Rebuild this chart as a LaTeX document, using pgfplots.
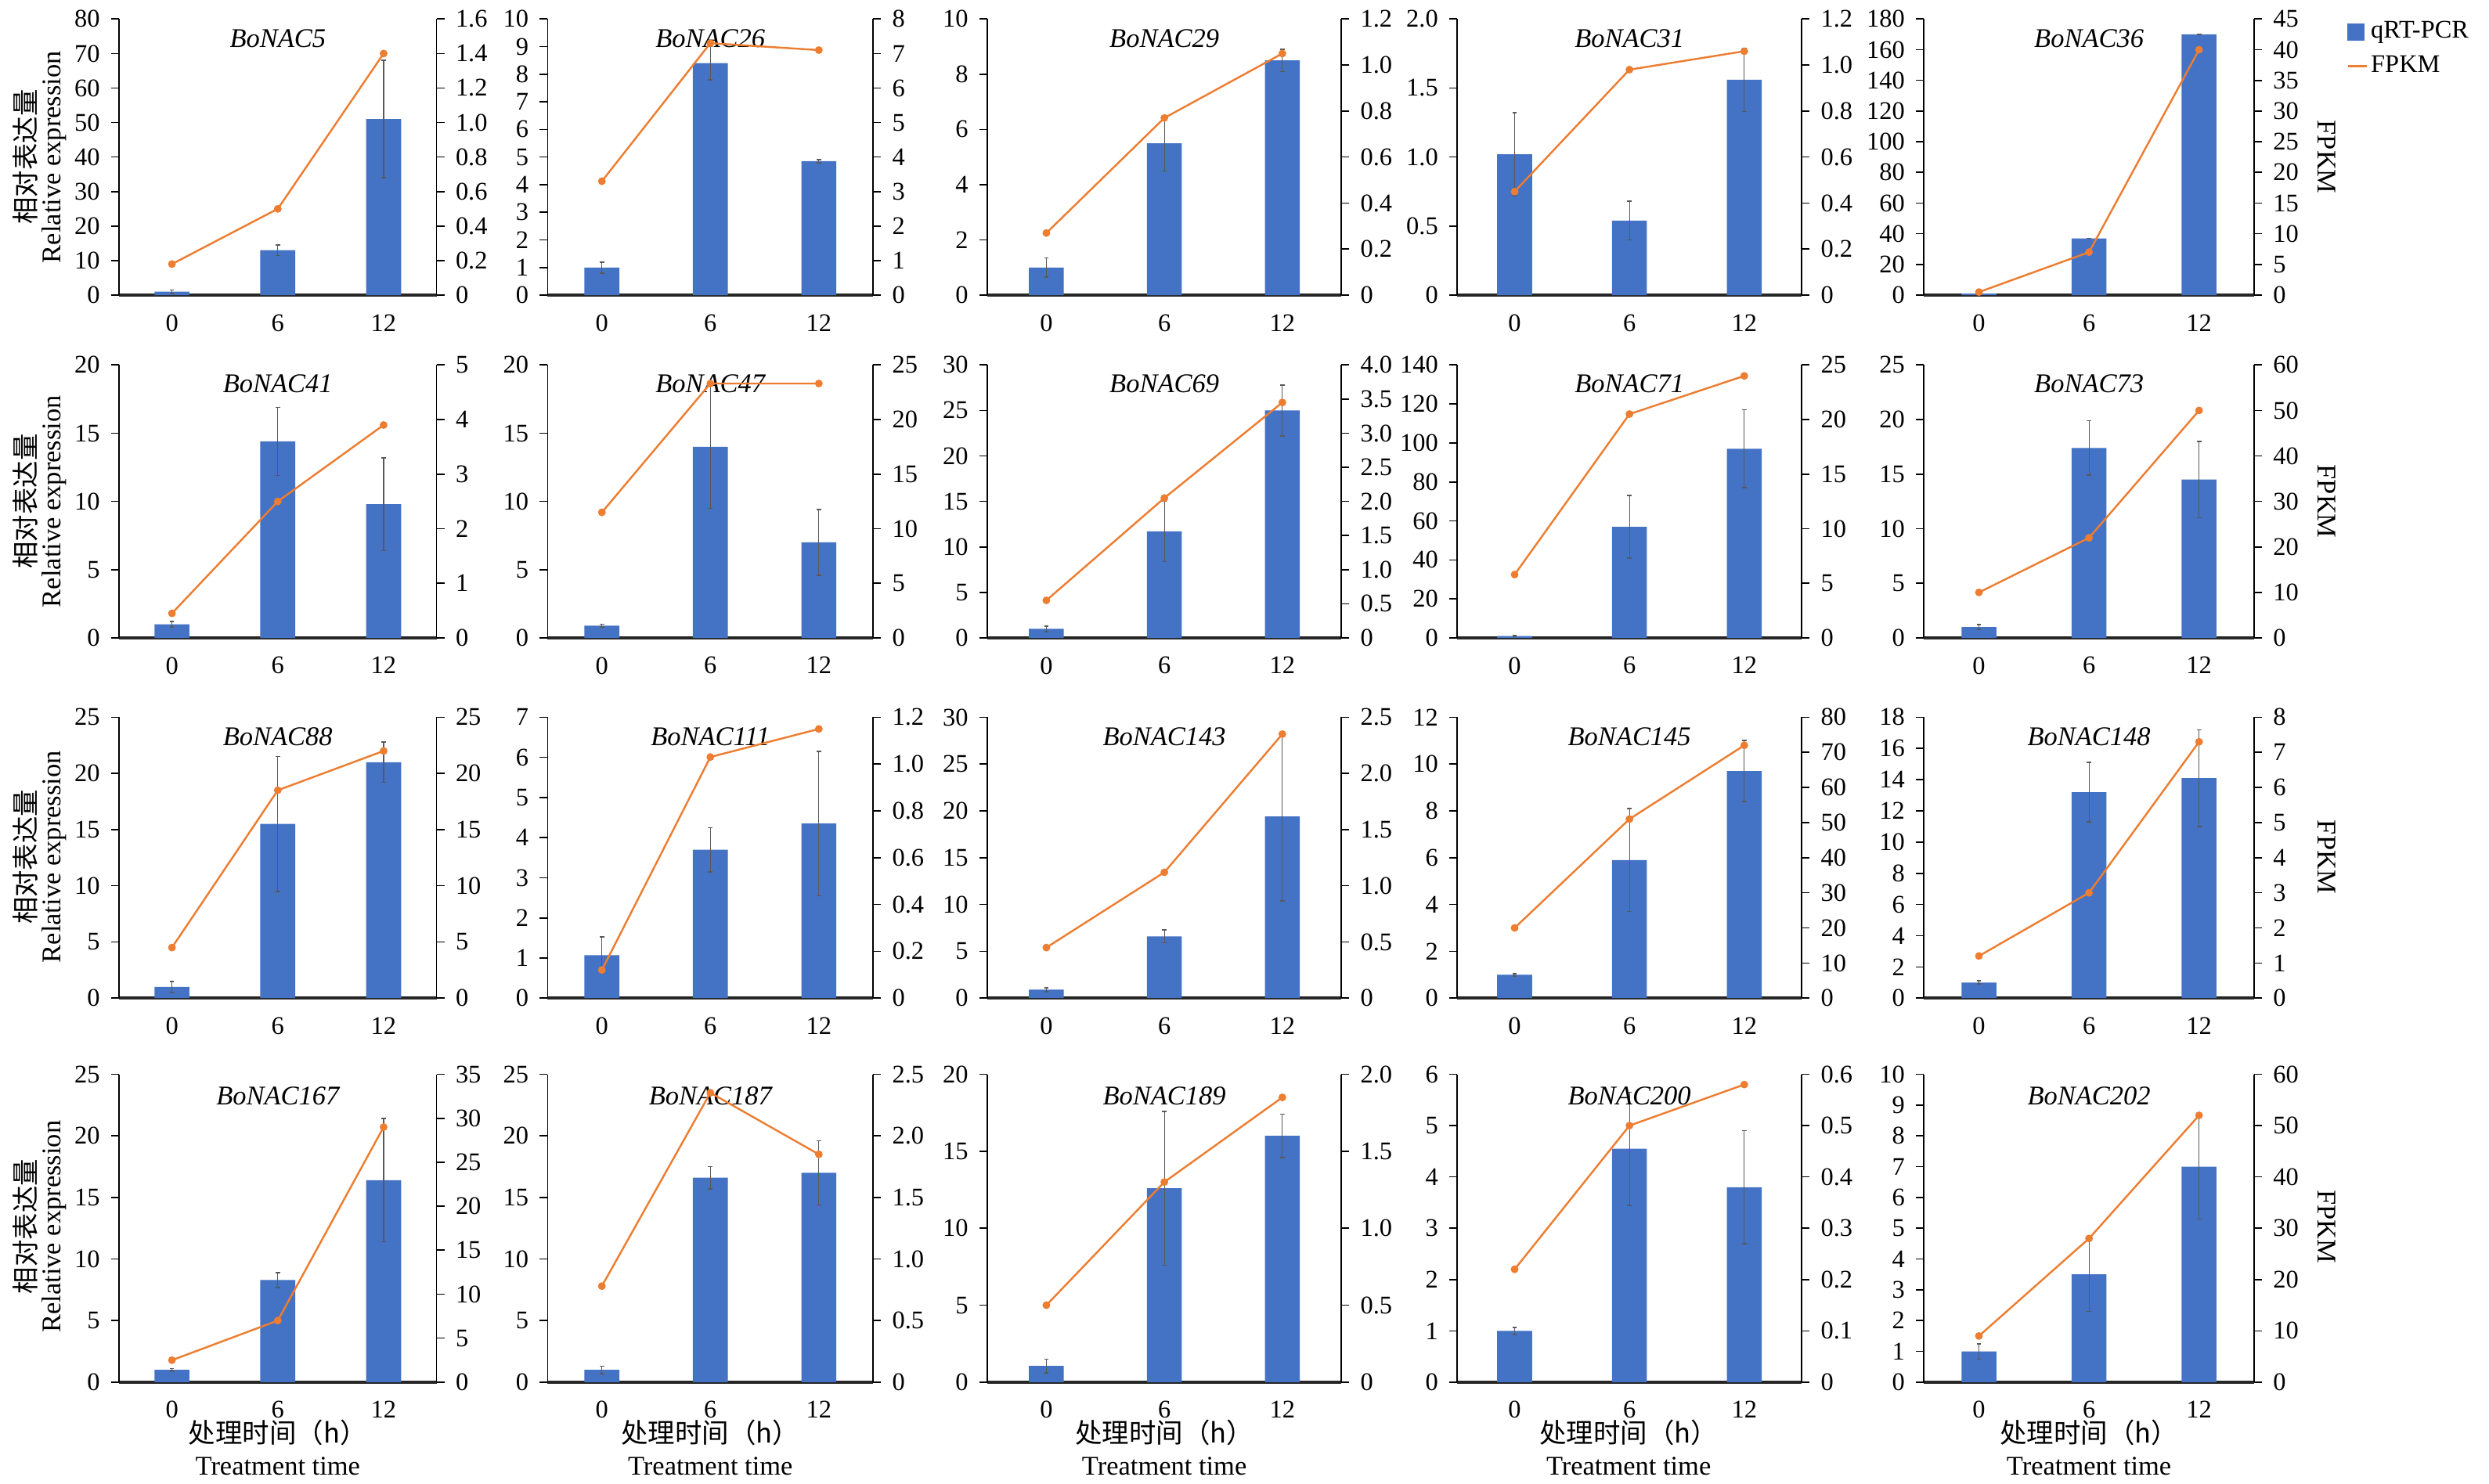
\documentclass[border=0pt]{standalone}
\usepackage{fontspec}
\setmainfont{Liberation Serif}
\newfontfamily\cjk{Noto Sans CJK SC}
\usepackage{pgfplots}
\pgfplotsset{compat=1.18}
\definecolor{nblue}{HTML}{4472C4}
\definecolor{norange}{HTML}{ED7D31}
\newcommand{\yl}[1]{\ifdim\tick pt=0pt 0\else\ifdim#1pt<1pt \pgfmathprintnumber[fixed,zerofill,precision=1]{\tick}\else\pgfmathprintnumber[fixed,precision=0]{\tick}\fi\fi}
\pgfplotsset{
  base/.style={scale only axis, anchor=south west, xmin=-0.5, xmax=2.5,
    /pgf/number format/assume math mode=true,
    tick label style={font=\fontsize{8}{9}\selectfont}, tick style={black, line width=0.4pt},
    major tick length=2.5pt, tick align=outside, clip=false},
  bar/.style={ybar, bar width=11pt, fill=nblue, draw=none,
    error bars/.cd, y dir=both, y explicit,
    error bar style={black!65, line width=0.3pt},
    error mark options={black!65, mark size=0.7pt, rotate=90}},
  fline/.style={norange, line width=0.6pt, mark=*, mark size=0.9pt, mark options={fill=norange, draw=norange}},
}
% #1 position, #2 title, #3 ymax, #4 ystep, #5 y2max, #6 y2step, #7 bars, #8 fpkm, #9 width
\newcommand{\panel}[9]{%
\begin{axis}[base, at={(#1)}, width=#9, height=\rh, ymin=0, ymax=#3, ytick distance=#4,
  yticklabel={\yl{#4}}, axis x line*=bottom, axis y line*=left,
  x axis line style={line width=1pt, black!85},
  xtick={0,1,2}, xticklabels={0,6,12}, x tick style={draw=none},
  extra x ticks={0.5,1.5}, extra x tick labels={}, extra x tick style={tick align=inside, major tick length=3.5pt, tick style={draw=black}}]
\addplot[bar] coordinates {#7};
\node[font=\fontsize{8.5}{9}\selectfont\itshape] at (rel axis cs:0.5,0.93) {#2};
\end{axis}
\begin{axis}[base, at={(#1)}, width=#9, height=\rh, ymin=0, ymax=#5, ytick distance=#6,
  yticklabel={\yl{#6}}, axis x line=none, axis y line*=right]
\addplot[fline] coordinates {#8};
\end{axis}}
\begin{document}
\begin{tikzpicture}
\path[use as bounding box] (0,0) rectangle (784pt,467.5pt);
% Row 1
\def\rh{87pt}
\panel{37.5pt,374.5pt}{BoNAC5}{80}{10}{1.6}{0.2}{(0,1) +- (0,0.5) (1,13) +- (0,1.5) (2,51) +- (0,17)}{(0,0.18) (1,0.5) (2,1.4)}{100pt}
\panel{172.5pt,374.5pt}{BoNAC26}{10}{1}{8}{1}{(0,1) +- (0,0.2) (1,8.4) +- (0,0.6) (2,4.85) +- (0,0.05)}{(0,3.3) (1,7.3) (2,7.1)}{102.5pt}
\panel{311pt,374.5pt}{BoNAC29}{10}{2}{1.2}{0.2}{(0,1) +- (0,0.35) (1,5.5) +- (0,1) (2,8.5) +- (0,0.4)}{(0,0.27) (1,0.77) (2,1.05)}{111.5pt}
\panel{459pt,374.5pt}{BoNAC31}{2}{0.5}{1.2}{0.2}{(0,1.02) +- (0,0.3) (1,0.54) +- (0,0.14) (2,1.56) +- (0,0.23)}{(0,0.45) (1,0.98) (2,1.06)}{108.5pt}
\panel{606pt,374.5pt}{BoNAC36}{180}{20}{45}{5}{(0,1) +- (0,0) (1,37) +- (0,0) (2,170) +- (0,0)}{(0,0.5) (1,7) (2,40)}{104pt}
% Row 2
\def\rh{86pt}
\panel{37.5pt,266.5pt}{BoNAC41}{20}{5}{5}{1}{(0,1) +- (0,0.2) (1,14.4) +- (0,2.5) (2,9.8) +- (0,3.4)}{(0,0.45) (1,2.5) (2,3.9)}{100pt}
\panel{172.5pt,266.5pt}{BoNAC47}{20}{5}{25}{5}{(0,0.9) +- (0,0.1) (1,14) +- (0,4.5) (2,7) +- (0,2.4)}{(0,11.5) (1,23.3) (2,23.3)}{102.5pt}
\panel{311pt,266.5pt}{BoNAC69}{30}{5}{4}{0.5}{(0,1) +- (0,0.3) (1,11.7) +- (0,3.3) (2,25) +- (0,2.8)}{(0,0.55) (1,2.05) (2,3.45)}{111.5pt}
\panel{459pt,266.5pt}{BoNAC71}{140}{20}{25}{5}{(0,1) +- (0,0.3) (1,57) +- (0,16) (2,97) +- (0,20)}{(0,5.8) (1,20.5) (2,24)}{108.5pt}
\panel{606pt,266.5pt}{BoNAC73}{25}{5}{60}{10}{(0,1) +- (0,0.2) (1,17.4) +- (0,2.5) (2,14.5) +- (0,3.5)}{(0,10) (1,22) (2,50)}{104pt}
% Row 3
\def\rh{88.5pt}
\panel{37.5pt,153pt}{BoNAC88}{25}{5}{25}{5}{(0,1) +- (0,0.5) (1,15.5) +- (0,6) (2,21) +- (0,1.8)}{(0,4.5) (1,18.5) (2,22)}{100pt}
\panel{172.5pt,153pt}{BoNAC111}{7}{1}{1.2}{0.2}{(0,1.07) +- (0,0.45) (1,3.7) +- (0,0.55) (2,4.35) +- (0,1.8)}{(0,0.12) (1,1.03) (2,1.15)}{102.5pt}
\panel{311pt,153pt}{BoNAC143}{30}{5}{2.5}{0.5}{(0,0.9) +- (0,0.2) (1,6.6) +- (0,0.7) (2,19.4) +- (0,9)}{(0,0.45) (1,1.12) (2,2.35)}{111.5pt}
\panel{459pt,153pt}{BoNAC145}{12}{2}{80}{10}{(0,1) +- (0,0.05) (1,5.9) +- (0,2.2) (2,9.7) +- (0,1.3)}{(0,20) (1,51) (2,72)}{108.5pt}
\panel{606pt,153pt}{BoNAC148}{18}{2}{8}{1}{(0,1) +- (0,0.1) (1,13.2) +- (0,1.9) (2,14.1) +- (0,3.1)}{(0,1.2) (1,3.0) (2,7.3)}{104pt}
% Row 4
\def\rh{97pt}
\panel{37.5pt,32pt}{BoNAC167}{25}{5}{35}{5}{(0,1) +- (0,0.1) (1,8.3) +- (0,0.6) (2,16.4) +- (0,5)}{(0,2.5) (1,7) (2,29)}{100pt}
\panel{172.5pt,32pt}{BoNAC187}{25}{5}{2.5}{0.5}{(0,1) +- (0,0.3) (1,16.6) +- (0,0.9) (2,17) +- (0,2.6)}{(0,0.78) (1,2.35) (2,1.85)}{102.5pt}
\panel{311pt,32pt}{BoNAC189}{20}{5}{2}{0.5}{(0,1.05) +- (0,0.45) (1,12.6) +- (0,5) (2,16) +- (0,1.4)}{(0,0.5) (1,1.3) (2,1.85)}{111.5pt}
\panel{459pt,32pt}{BoNAC200}{6}{1}{0.6}{0.1}{(0,1) +- (0,0.07) (1,4.55) +- (0,1.1) (2,3.8) +- (0,1.1)}{(0,0.22) (1,0.5) (2,0.58)}{108.5pt}
\panel{606pt,32pt}{BoNAC202}{10}{1}{60}{10}{(0,1) +- (0,0.25) (1,3.5) +- (0,1.2) (2,7) +- (0,1.7)}{(0,9) (1,28) (2,52)}{104pt}
% Legend
\begin{axis}[hide axis, scale only axis, width=30pt, height=20pt, at={(739pt,462pt)}, anchor=north west,
  xmin=0, xmax=1, ymin=0, ymax=1,
  legend style={at={(0,1)}, anchor=north west, draw=none, fill=none, font=\fontsize{8}{9}\selectfont, row sep=2pt, inner sep=0pt,
    nodes={inner sep=1pt}}, legend cell align=left,
  legend image code/.code={\draw[#1] (0pt,-2.5pt) rectangle (5pt,2.5pt);}]
\addlegendimage{fill=nblue, draw=nblue}
\addlegendentry{qRT-PCR}
\addlegendimage{legend image code/.code={\draw[norange, line width=0.6pt] (0pt,0pt) -- (6pt,0pt);}}
\addlegendentry{FPKM}
\end{axis}
% Axis titles
\foreach \yy in {418,309.5,197.5,81}{
  \node[rotate=90, font=\fontsize{8.5}{10}\selectfont\cjk] at (8pt,\yy pt) {相对表达量};
  \node[rotate=90, font=\fontsize{8.5}{10}\selectfont] at (17pt,\yy pt) {Relative expression};
  \node[rotate=-90, font=\fontsize{8.5}{10}\selectfont] at (733pt,\yy pt) {FPKM};
}
\foreach \xx in {87.5,223.75,366.75,513,658}{
  \node[font=\fontsize{8.5}{10}\selectfont\cjk] at (\xx pt,16pt) {处理时间（h）};
  \node[font=\fontsize{8.5}{10}\selectfont] at (\xx pt,5.5pt) {Treatment time};
}
\end{tikzpicture}
\end{document}
